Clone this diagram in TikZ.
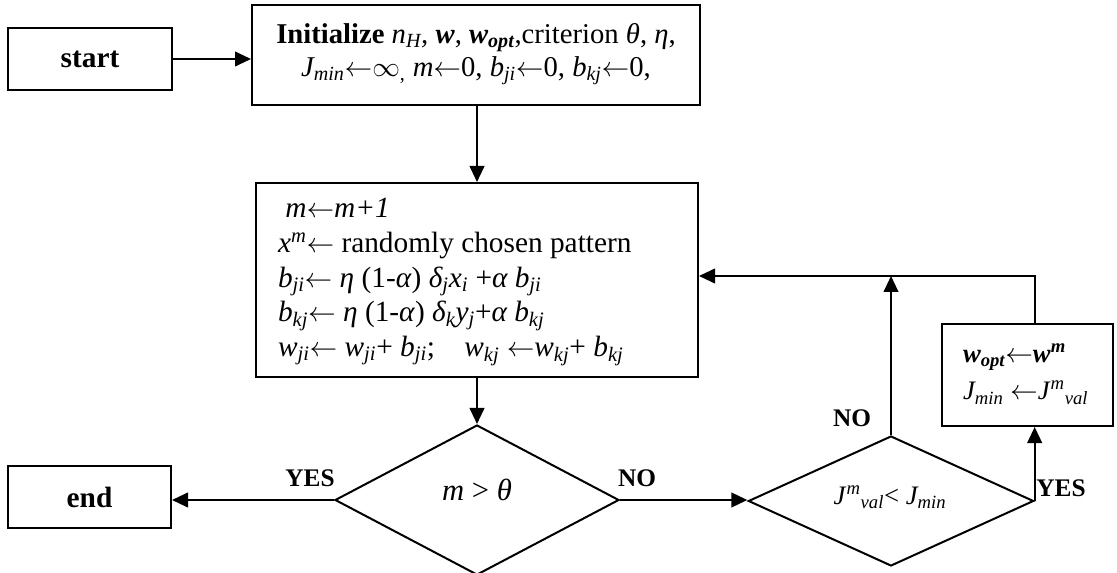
\documentclass[tikz,border=0pt]{standalone}
\usepackage{fontspec}
\setmainfont{Liberation Serif}
\usetikzlibrary{arrows.meta,shapes.geometric}
\newcommand{\la}{$\leftarrow$}
\newcommand{\sbi}[1]{\textsubscript{\itshape #1}}
\newcommand{\spi}[1]{\textsuperscript{\itshape #1}}
\begin{document}
\begin{tikzpicture}[x=0.75pt,y=-0.75pt,line width=1.5pt,
  box/.style={draw,rectangle,inner sep=0pt},
  dia/.style={draw,diamond,inner sep=0pt},
  arr/.style={-{Triangle[length=12pt,width=11pt]}},
  lbl/.style={font=\fontsize{19}{19}\selectfont\bfseries,inner sep=0pt},
  term/.style={font=\fontsize{22}{22}\selectfont\bfseries,inner sep=0pt},
  txt/.style={inner sep=0pt,align=left,font=\fontsize{22}{26}\selectfont}]
\useasboundingbox (0,0) rectangle (1117,573);
% boxes
\node[box,minimum width=336pt,minimum height=75pt] (init) at (476,55) {};
\node[inner sep=0pt,align=center,font=\fontsize{21.5}{25}\selectfont] (inittext) at (476,54)
  {\textbf{Initialize} \textit{n\sbi{H}, }\textbf{\textit{w}}, \textbf{\textit{w\textsubscript{opt}}},criterion \textit{θ}, \textit{η},\\
   \textit{J\sbi{min}}\la$\infty$\textsubscript{,} \textit{m}\la0, \textit{b\sbi{ji}}\la0, \textit{b\sbi{kj}}\la0,};
\node[box,minimum width=123pt,minimum height=46.5pt] (start) at (90,59) {};
\node[term] (starttext) at (90,59) {start};
\node[box,minimum width=331.5pt,minimum height=145.5pt] (main) at (477,280) {};
\node[txt,anchor=west] (maintext) at (277,282)
  {\ \textit{m}\la\textit{m+1}\\
   \textit{x}\spi{m}\la\ randomly chosen pattern\\
   \textit{b\sbi{ji}}\la\ \textit{η} (1-\textit{α}) \textit{δ\sbi{j}x\sbi{i}} +\textit{α b\sbi{ji}}\\
   \textit{b\sbi{kj}}\la\ \textit{η} (1-\textit{α}) \textit{δ\sbi{k}y\sbi{j}}+\textit{α b\sbi{kj}}\\
   \textit{w\sbi{ji}}\la\ \textit{w\sbi{ji}}+ \textit{b\sbi{ji}};\quad \textit{w\sbi{kj}} \la\textit{w\sbi{kj}}+ \textit{b\sbi{kj}}};
\node[box,minimum width=122.25pt,minimum height=46.5pt] (end) at (89.5,497) {};
\node[term] (endtext) at (89.5,497) {end};
\node[dia,minimum width=213pt,minimum height=112.5pt] (d1) at (477,500) {};
\node[inner sep=0pt,font=\fontsize{23}{23}\selectfont] (d1text) at (477,490) {\textit{m} > \textit{θ}};
\node[dia,minimum width=214pt,minimum height=97.5pt] (d2) at (891,501) {};
\node[inner sep=0pt,font=\fontsize{20}{20}\selectfont] (d2text) at (890,497)
  {\textit{J}\spi{m}\sbi{val}< \textit{J\sbi{min}}};
\node[box,minimum width=128.25pt,minimum height=76.5pt] (rb) at (1027.5,375) {};
\node[inner sep=0pt,align=left,anchor=west,font=\fontsize{20}{28}\selectfont] (rbtext) at (962,374)
  {\textbf{\textit{w\textsubscript{opt}}}\la\textbf{\textit{w\textsuperscript{m}}}\\
   \textit{J\sbi{min}} \la\textit{J}\spi{m}\sbi{val}};
% labels
\node[lbl] (yes1) at (310,478) {YES};
\node[lbl] (no1) at (637,478) {NO};
\node[lbl] (no2) at (852,418) {NO};
\node[lbl] (yes2) at (1061,488) {YES};
% connectors
\path (d2.east) ++(0,-225) coordinate (fb);
\draw[arr] (start.east) -- (start.east -| init.west);
\draw[arr] (main.north |- init.south) -- (main.north);
\draw[arr] (main.south) -- (d1.north);
\draw[arr] (d1.west) -- (d1.west -| end.east);
\draw[arr] (d1.east) -- (d1.east -| d2.west);
\draw[arr] (d2.north) -- (d2.north |- fb);
\draw[arr] (d2.east) -- (d2.east |- rb.south);
\draw[arr] (d2.east |- rb.north) -- (fb) -- (fb -| main.east);
\end{tikzpicture}
\end{document}
